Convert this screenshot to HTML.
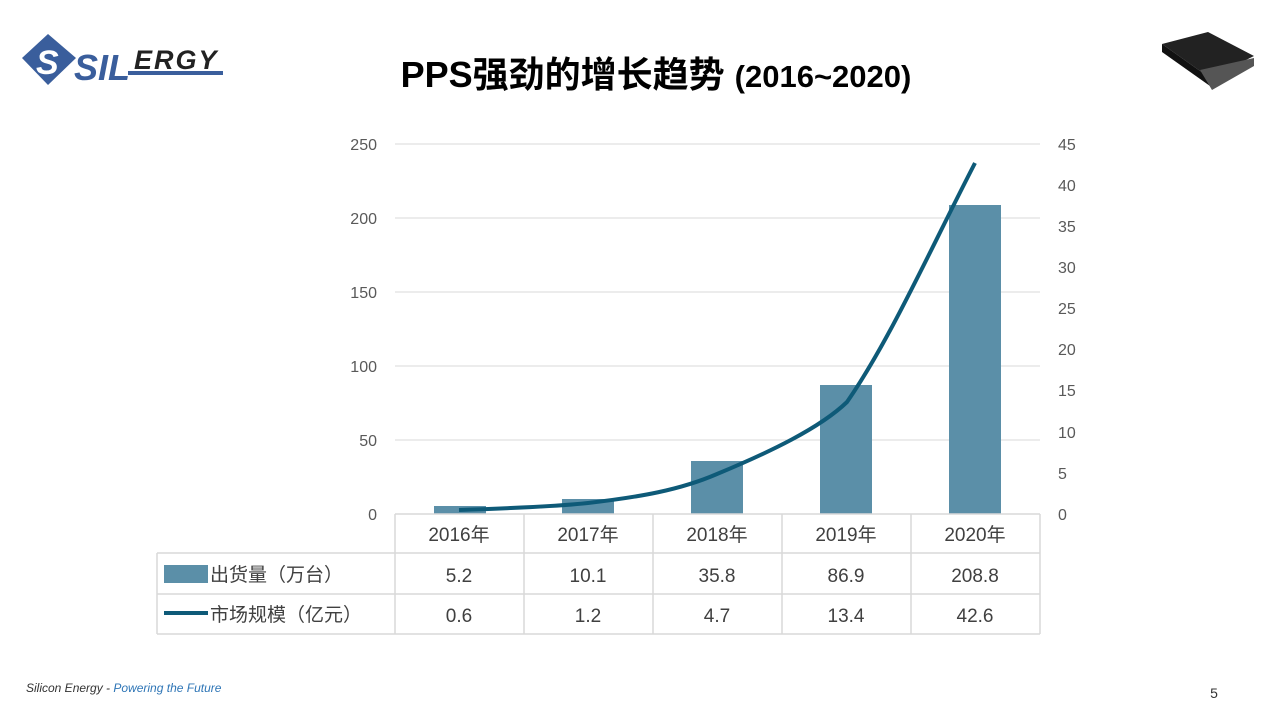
<!DOCTYPE html>
<html><head><meta charset="utf-8"><style>
body{margin:0;width:1280px;height:720px;background:#fff;overflow:hidden;font-family:"Liberation Sans","Noto Sans CJK SC",sans-serif;}
</style></head><body>
<svg width="1280" height="720" xmlns="http://www.w3.org/2000/svg" style="position:absolute;left:0;top:0">
<g fill="#3a5e9c">
<polygon points="48,34 76,58 48,85 22,58"/>
</g>
<text x="36" y="74" font-family="Liberation Sans,sans-serif" font-weight="bold" font-style="italic" font-size="34" fill="#fff">S</text>
<text x="74" y="80" font-family="Liberation Sans,sans-serif" font-weight="bold" font-style="italic" font-size="36" fill="#3a5e9c">SIL</text>
<text x="134" y="69" font-family="Liberation Sans,sans-serif" font-weight="bold" font-style="italic" font-size="27" fill="#222" letter-spacing="2">ERGY</text>
<rect x="128" y="71" width="95" height="4" fill="#3a5e9c"/>
<polygon points="1162,44 1208,32 1254,56 1210,78" fill="#222"/>
<polygon points="1162,44 1210,78 1210,86 1162,52" fill="#111"/>
<polygon points="1200,70 1254,58 1254,66 1212,90" fill="#555"/>
<text x="656" y="87" text-anchor="middle" font-weight="bold" font-size="36" fill="#000">PPS强劲的增长趋势 <tspan font-size="31">(2016~2020)</tspan></text>
<g stroke="#d9d9d9" stroke-width="1">
<line x1="395" y1="144" x2="1040" y2="144"/><line x1="395" y1="218" x2="1040" y2="218"/>
<line x1="395" y1="292" x2="1040" y2="292"/><line x1="395" y1="366" x2="1040" y2="366"/>
<line x1="395" y1="440" x2="1040" y2="440"/>
</g>
<g font-size="16" fill="#595959" text-anchor="end">
<text x="377" y="150">250</text><text x="377" y="224">200</text><text x="377" y="298">150</text>
<text x="377" y="372">100</text><text x="377" y="446">50</text><text x="377" y="520">0</text>
</g>
<g font-size="16" fill="#595959">
<text x="1058" y="150">45</text><text x="1058" y="191">40</text><text x="1058" y="232">35</text>
<text x="1058" y="273">30</text><text x="1058" y="314">25</text><text x="1058" y="355">20</text>
<text x="1058" y="396">15</text><text x="1058" y="438">10</text><text x="1058" y="479">5</text><text x="1058" y="520">0</text>
</g>
<g fill="#5b8fa8">
<rect x="434" y="506" width="52" height="8"/>
<rect x="562" y="499" width="52" height="15"/>
<rect x="691" y="461" width="52" height="53"/>
<rect x="820" y="385" width="52" height="129"/>
<rect x="949" y="205" width="52" height="309"/>
</g>
<path d="M459,510 C520,508 560,506 588,503 C640,497 680,490 717,474 C770,452 820,428 847,402 C890,340 930,250 975,163" fill="none" stroke="#0e5a78" stroke-width="4"/>
<g stroke="#d9d9d9" stroke-width="1.5" fill="none">
<line x1="395" y1="514" x2="1040" y2="514"/>
<line x1="157" y1="553" x2="1040" y2="553"/>
<line x1="157" y1="594" x2="1040" y2="594"/>
<line x1="157" y1="634" x2="1040" y2="634"/>
<line x1="157" y1="553" x2="157" y2="634"/>
<line x1="395" y1="514" x2="395" y2="634"/><line x1="524" y1="514" x2="524" y2="634"/>
<line x1="653" y1="514" x2="653" y2="634"/><line x1="782" y1="514" x2="782" y2="634"/>
<line x1="911" y1="514" x2="911" y2="634"/><line x1="1040" y1="514" x2="1040" y2="634"/>
</g>
<g font-size="19" fill="#404040" text-anchor="middle">
<text x="459" y="541">2016年</text><text x="588" y="541">2017年</text><text x="717" y="541">2018年</text><text x="846" y="541">2019年</text><text x="975" y="541">2020年</text>
<text x="459" y="582">5.2</text><text x="588" y="582">10.1</text><text x="717" y="582">35.8</text><text x="846" y="582">86.9</text><text x="975" y="582">208.8</text>
<text x="459" y="622">0.6</text><text x="588" y="622">1.2</text><text x="717" y="622">4.7</text><text x="846" y="622">13.4</text><text x="975" y="622">42.6</text>
</g>
<rect x="164" y="565" width="44" height="18" fill="#5b8fa8"/>
<line x1="164" y1="613" x2="208" y2="613" stroke="#0e5a78" stroke-width="4"/>
<g font-size="19" fill="#404040">
<text x="210" y="581">出货量（万台）</text>
<text x="210" y="621">市场规模（亿元）</text>
</g>
<text x="26" y="692" font-size="12" font-style="italic" fill="#333">Silicon Energy - <tspan fill="#2e75b6">Powering the Future</tspan></text>
<text x="1214" y="698" font-size="14" fill="#333" text-anchor="middle">5</text>
</svg>
</body></html>
